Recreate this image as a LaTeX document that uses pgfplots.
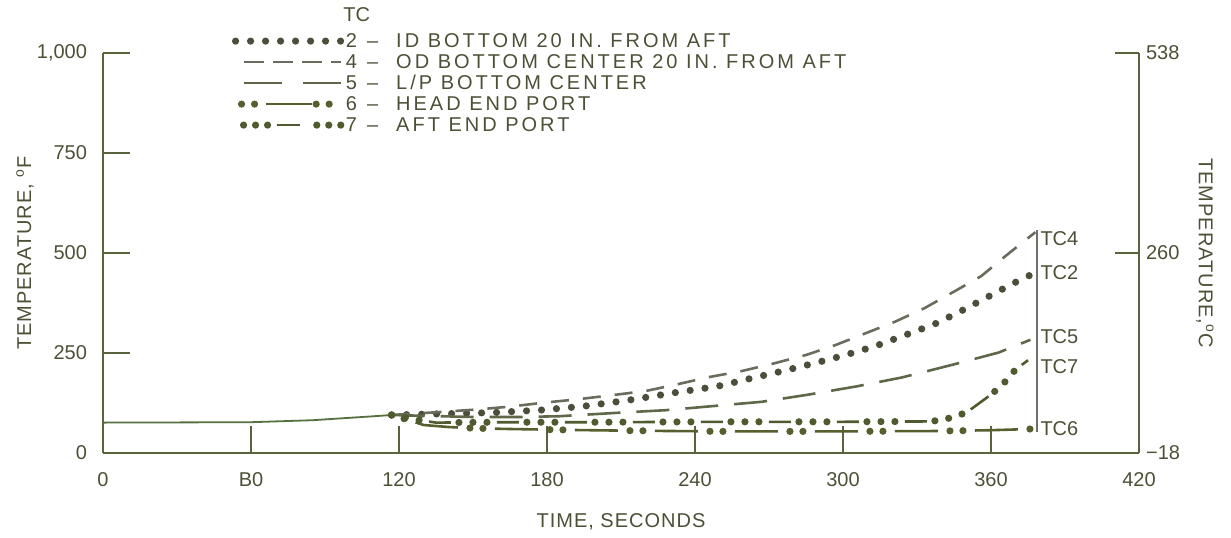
\documentclass[border=0pt]{standalone}
\usepackage{fontspec}
\setmainfont{Liberation Sans}
\newfontfamily\legfont[LetterSpace=15]{Liberation Sans}
\newfontfamily\labfont[LetterSpace=5]{Liberation Sans}
\usepackage{pgfplots}
\pgfplotsset{compat=1.18}
\definecolor{axiscol}{HTML}{58643E}
\definecolor{textcol}{HTML}{4B5036}
\definecolor{tc4}{HTML}{6B6B5E}
\definecolor{tc2}{HTML}{4A4E3A}
\definecolor{tc5}{HTML}{5E6848}
\definecolor{tc6}{HTML}{55602E}
\definecolor{tc7}{HTML}{4F5A2E}
\definecolor{brk}{HTML}{707068}
\definecolor{commoncol}{HTML}{56703E}
\newcommand{\legdash}{\hspace{5pt}–\hspace{9pt}}
\begin{document}
\begin{tikzpicture}
\useasboundingbox (-51.5pt,-42pt) rectangle (564pt,226.5pt);
\begin{axis}[
  at={(0pt,0pt)}, anchor=south west,
  scale only axis, width=518pt, height=200pt,
  xmin=0, xmax=420, ymin=0, ymax=1000,
  clip=false,
  axis x line*=bottom, axis y line*=left,
  axis line style={axiscol, line width=1.3pt},
  xtick={0,60,120,180,240,300,360,420},
  xticklabels={0,B0,120,180,240,300,360,420},
  ytick={0,250,500,750,1000},
  yticklabels={0,250,500,750,{1,000}},
  tick align=inside, major tick length=13.5pt,
  tick style={axiscol, line width=1pt},
  ticklabel style={font=\fontsize{10}{12}\selectfont, text=textcol},
  xticklabel style={yshift=-6pt},
  yticklabel style={xshift=-4.5pt},
  xlabel={TIME, SECONDS},
  ylabel={TEMPERATURE, \textsuperscript{o}F},
  every axis x label/.style={at={(axis description cs:0.5,-0.1725)}, anchor=center, font=\labfont\fontsize{10}{12}\selectfont, text=textcol},
  every axis y label/.style={at={(axis description cs:-0.0753,0.5)}, anchor=center, rotate=90, font=\labfont\fontsize{10}{12}\selectfont, text=textcol},
  legend cell align=left,
  legend style={at={(rel axis cs:0.1245,1.055)}, anchor=north west, draw=none, fill=none,
    inner sep=0pt, outer sep=0pt, row sep=0.4pt, column sep=0pt,
    nodes={inner sep=0.8pt, text height=7.3pt, text depth=1.2pt, anchor=west, text=textcol, font=\legfont\fontsize{10}{12}\selectfont}},
]
% common initial segment
\addplot[commoncol, line width=0.9pt, forget plot] coordinates {(0,76) (60,77) (85,82) (110,92) (117,95)};
% TC2
\addplot[tc2, line width=3.6pt, line cap=round, dash pattern=on 0pt off 7.5pt,
  legend image code/.code={\draw[tc2, line width=3.6pt, line cap=round, dash pattern=on 0pt off 7.5pt, dash phase=0pt] (0pt,0pt) -- (52.6pt,0pt);}]
  coordinates {(117,95) (130,97) (145,99) (158,101) (164,103) (177,107) (195,117) (213,132) (232,151) (244,162) (250,168) (263,187) (277,207) (290,227) (301,245) (313,267) (324,292) (337,322) (347,352) (358,388) (369,424) (376,445)};
\addlegendentry{2\legdash ID BOTTOM 20 IN. FROM AFT}
% TC4
\addplot[tc4, line width=1.3pt, dash pattern=on 9pt off 7pt,
  legend image code/.code={\draw[tc4, line width=1.3pt, dash pattern=on 10pt off 4.5pt, dash phase=0pt] (4pt,0pt) -- (52.6pt,0pt);}]
  coordinates {(117,95) (125,98) (138,103) (152,109) (165,116) (179,126) (192,134) (207,145) (220,155) (233,172) (245,189) (259,205) (272,224) (285,245) (297,270) (309,299) (321,328) (333,362) (344,400) (356,442) (366,493) (378,552)};
\addlegendentry{4\legdash OD BOTTOM CENTER 20 IN. FROM AFT}
% TC5
\addplot[tc5, line width=1.3pt, dash pattern=on 16.5pt off 8pt,
  legend image code/.code={\draw[tc5, line width=1.3pt, dash pattern=on 19pt off 10.6pt, dash phase=0pt] (4pt,0pt) -- (52.6pt,0pt);}]
  coordinates {(117,95) (130,93) (150,90) (170,90) (185,92) (210,101) (228,107) (243,115) (267,128) (285,145) (305,166) (324,189) (344,220) (363,251) (376,283)};
\addlegendentry{5\legdash L/P BOTTOM CENTER}
% TC6 dots
\addplot[tc6, line width=3.6pt, line cap=round, dash pattern=on 0pt off 6.5pt on 0pt off 33.5pt, forget plot]
  coordinates {(117,95) (123,84) (130,70) (140,65) (150,62) (165,60) (185,58) (210,56) (250,54) (300,54) (340,55) (360,57) (376,60)};
% TC6 dashes
\addplot[tc6, line width=1.3pt, dash pattern=on 21.5pt off 18.5pt, dash phase=27.5pt,
  legend image code/.code={\draw[tc6, line width=3.6pt, line cap=round, dash pattern=on 0pt off 6.5pt on 0pt off 30.8pt, dash phase=0pt] (3pt,0pt) -- (52.6pt,0pt); \draw[tc6, line width=1.3pt, solid] (15pt,0pt) -- (38pt,0pt);}]
  coordinates {(117,95) (123,84) (130,70) (140,65) (150,62) (165,60) (185,58) (210,56) (250,54) (300,54) (340,55) (360,57) (376,60)};
\addlegendentry{6\legdash HEAD END PORT}
% TC7 dots
\addplot[tc7, line width=3.6pt, line cap=round, dash pattern=on 0pt off 7pt on 0pt off 7pt on 0pt off 20pt, forget plot]
  coordinates {(117,95) (125,85) (135,76) (160,77) (200,77) (250,78) (300,78) (336,79) (343,87) (350,101) (358,137) (364,166) (370,209) (375,232)};
% TC7 dashes
\addplot[tc7, line width=1.3pt, dash pattern=on 11pt off 23pt, dash phase=15pt,
  legend image code/.code={\draw[tc7, line width=3.6pt, line cap=round, dash pattern=on 0pt off 6pt on 0pt off 6pt on 0pt off 24.6pt, dash phase=0pt] (4pt,0pt) -- (52.6pt,0pt); \draw[tc7, line width=1.3pt, solid] (20.5pt,0pt) -- (32pt,0pt);}]
  coordinates {(117,95) (125,85) (135,76) (160,77) (200,77) (250,78) (300,78) (336,79) (343,87) (350,101) (358,137) (364,166) (370,209) (375,232)};
\addlegendentry{7\legdash AFT END PORT}
% legend header
\node[text=textcol, font=\fontsize{10}{12}\selectfont] at (axis description cs:0.245,1.095) {TC};
% bracket and labels
\draw[brk, line width=1.1pt] (axis cs:378.6,557) -- (axis cs:378.6,52);
\begin{scope}[every node/.style={anchor=west, inner sep=0.5pt, text=textcol, font=\fontsize{10}{12}\selectfont}]
\node at (axis cs:379.5,537) {TC4};
\node at (axis cs:379.5,452) {TC2};
\node at (axis cs:379.5,290) {TC5};
\node at (axis cs:379.5,215) {TC7};
\node at (axis cs:379.5,62) {TC6};
\end{scope}
\end{axis}
\begin{axis}[
  at={(0pt,0pt)}, anchor=south west,
  scale only axis, width=518pt, height=200pt,
  xmin=0, xmax=420, ymin=-18, ymax=538,
  axis x line=none, axis y line*=right,
  axis line style={axiscol, line width=1.3pt},
  ytick={-18,260,538}, yticklabels={−18,260,538},
  tick align=inside, major tick length=12pt,
  tick style={axiscol, line width=1pt},
  ticklabel style={font=\fontsize{10}{12}\selectfont, text=textcol},
  ylabel={TEMPERATURE,\textsuperscript{o}C},
  every axis y label/.style={at={(axis description cs:1.0637,0.5)}, anchor=center, rotate=-90, font=\labfont\fontsize{10}{12}\selectfont, text=textcol},
]
\end{axis}
\end{tikzpicture}
\end{document}
